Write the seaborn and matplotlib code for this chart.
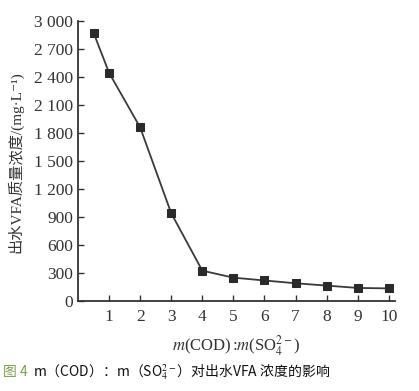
import numpy as np
import pandas as pd
import matplotlib
matplotlib.use("Agg")
import matplotlib.pyplot as plt
import seaborn as sns

# data
ratio = [0.5, 1, 2, 3, 4, 5, 6, 7, 8, 9, 10]
vfa = [2875, 2445, 1860, 940, 325, 250, 220, 190, 165, 140, 135]

x_ticks = [1, 2, 3, 4, 5, 6, 7, 8, 9, 10]
y_ticks = [0, 300, 600, 900, 1200, 1500, 1800, 2100, 2400, 2700, 3000]
y_ticklabels = ["0", "300", "600", "900", "1 200", "1 500", "1 800",
                "2 100", "2 400", "2 700", "3 000"]

sns.set_style("ticks")
plt.rcParams["font.family"] = ["Liberation Serif", "Noto Sans CJK SC", "DejaVu Sans"]
plt.rcParams["mathtext.fontset"] = "stix"

df = pd.DataFrame({"ratio": ratio, "vfa": vfa})

fig = plt.figure(figsize=(4.19, 3.91), dpi=100)
ax = fig.add_axes([78 / 419, 90 / 391, 317 / 419, 280 / 391])

sns.lineplot(
    data=df, x="ratio", y="vfa", ax=ax,
    color="#3a3a3a", linewidth=1.3,
    marker="s", markersize=6, markerfacecolor="#2a2a2a",
    markeredgecolor="#2a2a2a",
)

ax.set_xlim(0, 10.2)
ax.set_ylim(0, 3000)
ax.set_xticks(x_ticks)
ax.set_yticks(y_ticks)
ax.set_yticklabels(y_ticklabels)
ax.tick_params(direction="in", length=4, width=1, labelsize=12.5, colors="#333333")
ax.tick_params(axis="x", pad=6)
for s in ["top", "right"]:
    ax.spines[s].set_visible(False)
for s in ["left", "bottom"]:
    ax.spines[s].set_color("#333333")
    ax.spines[s].set_linewidth(1.3)

ax.set_xlabel(r"$\it{m}$(COD)$\,$:$\it{m}$(SO$_4^{2-}$)", fontsize=12, color="#333333")
ax.xaxis.set_label_coords(0.5, -0.115)
ax.set_ylabel("")

fig.text(15 / 419, 1 - 162 / 391, "出水VFA质量浓度/(mg·L⁻¹)", fontsize=11,
         rotation=90, ha="center", va="center", color="#333333",
         family=["Liberation Serif", "Noto Sans CJK SC", "DejaVu Sans"])

fig.text(3 / 419, 1 - 372 / 391, "图 4", fontsize=10, color="#7aa04a",
         family=["Noto Sans CJK SC", "DejaVu Sans"], va="center")
fig.text(33 / 419, 1 - 372 / 391, r"m（COD）：m（SO$_4^{2-}$）对出水VFA 浓度的影响",
         fontsize=10, color="#111111",
         family=["Noto Sans CJK SC", "DejaVu Sans"], va="center")

fig.savefig("out.png", dpi=100)
